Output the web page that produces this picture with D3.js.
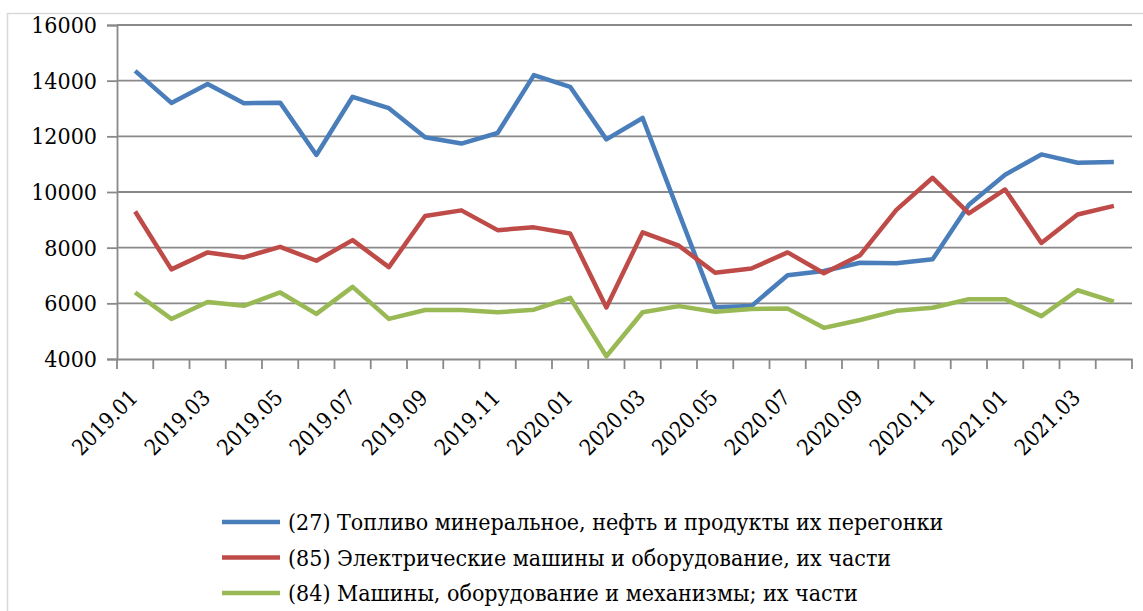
<!DOCTYPE html>
<html>
<head>
    <meta charset="utf-8">
    <title>Import chart</title>
    <script src="https://d3js.org/d3.v7.min.js"></script>
	<style>
		body { margin: 0; background: #fff; }
	</style>
</head>
<body>
	<script>
		var months = ["2019.01","2019.02","2019.03","2019.04","2019.05","2019.06","2019.07","2019.08","2019.09","2019.10","2019.11","2019.12",
			"2020.01","2020.02","2020.03","2020.04","2020.05","2020.06","2020.07","2020.08","2020.09","2020.10","2020.11","2020.12",
			"2021.01","2021.02","2021.03","2021.04"];
		var fuel = [14350, 13200, 13880, 13190, 13210, 11330, 13420, 13010, 11970, 11740, 12120, 14200,
			13780, 11890, 12660, 9250, 5860, 5900, 7010, 7160, 7460, 7440, 7580, 9540,
			10620, 11350, 11050, 11080];
		var electric = [9300, 7220, 7830, 7650, 8030, 7530, 8270, 7300, 9140, 9340, 8630, 8730,
			8510, 5850, 8550, 8070, 7100, 7250, 7830, 7080, 7730, 9360, 10510, 9230,
			10090, 8170, 9190, 9500];
		var machines = [6390, 5440, 6050, 5910, 6390, 5620, 6590, 5440, 5760, 5760, 5680, 5770,
			6200, 4100, 5680, 5900, 5700, 5800, 5810, 5120, 5400, 5730, 5840, 6150,
			6150, 5540, 6470, 6060];
		var yTicks = [4000, 6000, 8000, 10000, 12000, 14000, 16000];
		var seriesNames = ["(27) Топливо минеральное, нефть и продукты их перегонки",
			"(85) Электрические машины и оборудование, их части",
			"(84) Машины, оборудование и механизмы; их части"];
		var colors = ["#4a7ebb", "#be4b48", "#98b954"];

		var serif = "'DejaVu Serif', 'Liberation Serif', serif";
		var width = 1143;
		var height = 611;
		var padding = {left: 117, right: 11, top: 25, bottom: 252};
		var svg = d3.select('body')
			.append('svg')
			.attr('width', width)
			.attr('height', height);

		// outer frame (cut off at right and bottom)
		svg.append('rect')
			.attr('x', 7.5).attr('y', 13.5)
			.attr('width', 1300).attr('height', 800)
			.attr('fill', 'none')
			.attr('stroke', '#d9d9d9')
			.attr('stroke-width', 1.5);

		var xScale = d3.scaleBand()
			.domain(months)
			.range([padding.left, width - padding.right]);
		var yScale = d3.scaleLinear()
			.domain([4000, 16000])
			.range([height - padding.bottom, padding.top]);

		// gridlines
		svg.append('g')
			.selectAll('line')
			.data(yTicks.slice(1))
			.enter()
			.append('line')
			.attr('x1', padding.left)
			.attr('x2', width - padding.right)
			.attr('y1', function(d){ return yScale(d); })
			.attr('y2', function(d){ return yScale(d); })
			.attr('stroke', '#898989')
			.attr('stroke-width', 1.8);

		//y axis
		var yAxis = d3.axisLeft(yScale).tickValues(yTicks).tickSize(10).tickPadding(10).tickFormat(d3.format('d'));
		var gy = svg.append('g')
			.attr('class', 'axis')
			.attr('transform', 'translate(' + padding.left + ',0)')
			.call(yAxis);
		gy.attr('font-family', null);
		gy.selectAll('text')
			.style('font-family', serif)
			.style('font-stretch', 'condensed')
			.style('font-size', '23px')
			.attr('fill', '#000');

		//x axis
		var xAxis = d3.axisBottom(xScale).tickSize(0).tickFormat(function(d, i){ return i % 2 == 0 ? d : ''; });
		var gx = svg.append('g')
			.attr('class', 'axis')
			.attr('transform', 'translate(0,' + (height - padding.bottom) + ')')
			.call(xAxis);
		gx.attr('font-family', null);
		gx.selectAll('text')
			.style('font-family', serif)
			.style('font-stretch', 'condensed')
			.style('font-size', '22px')
			.attr('fill', '#000')
			.attr('text-anchor', 'end')
			.attr('y', 0)
			.attr('dy', 0)
			.attr('transform', 'translate(4,40) rotate(-45)');
		// ticks on band edges
		gx.selectAll('.edge')
			.data(months.concat(['end']))
			.enter()
			.append('line')
			.attr('class', 'edge')
			.attr('x1', function(d, i){ return padding.left + i * xScale.step(); })
			.attr('x2', function(d, i){ return padding.left + i * xScale.step(); })
			.attr('y1', 0)
			.attr('y2', 10)
			.attr('stroke', '#898989')
			.attr('stroke-width', 1.8);
		svg.selectAll('.axis path.domain')
			.attr('stroke', '#898989')
			.attr('stroke-width', 1.8);
		svg.selectAll('.axis .tick line')
			.attr('stroke', '#898989')
			.attr('stroke-width', 1.8);

		var line = d3.line()
			.x(function(d, i){ return xScale(months[i]) + xScale.bandwidth() / 2; })
			.y(function(d){ return yScale(d); });

		var allSeries = [fuel, electric, machines];
		svg.selectAll('.series')
			.data(allSeries)
			.enter()
			.append('path')
			.attr('class', 'series')
			.attr('d', function(d){ return line(d); })
			.attr('fill', 'none')
			.attr('stroke', function(d, i){ return colors[i]; })
			.attr('stroke-width', 4.5)
			.attr('stroke-linejoin', 'round');

		// legend
		var legend = svg.append('g').attr('class', 'legend');
		var rows = legend.selectAll('g')
			.data(seriesNames)
			.enter()
			.append('g')
			.attr('transform', function(d, i){ return 'translate(222,' + (522 + i * 35.5) + ')'; });
		rows.append('line')
			.attr('x1', 0).attr('x2', 58)
			.attr('stroke', function(d, i){ return colors[i]; })
			.attr('stroke-width', 4.5);
		rows.append('text')
			.attr('x', 66)
			.attr('dy', '0.35em')
			.style('font-family', serif)
			.style('font-stretch', 'condensed')
			.style('font-size', '23px')
			.text(function(d){ return d; });
	</script>
</body>
</html>
